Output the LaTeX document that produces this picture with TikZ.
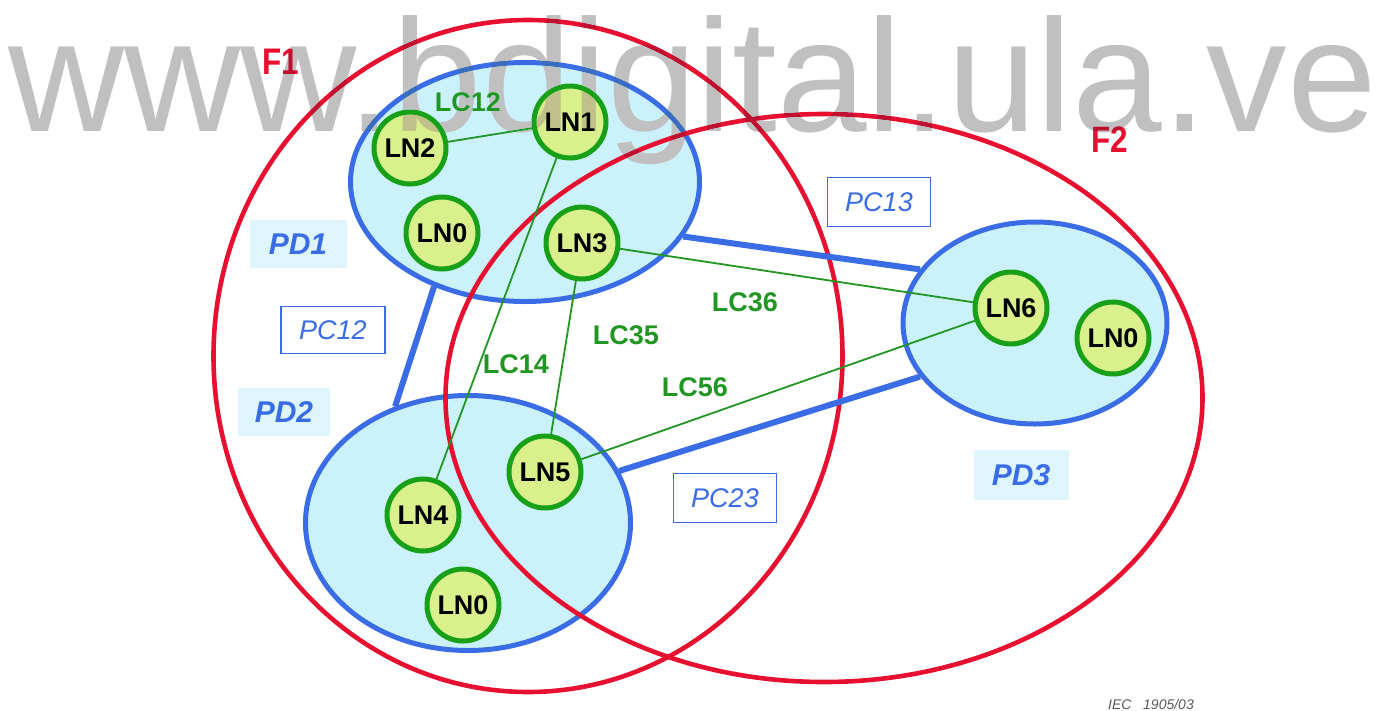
\documentclass[tikz,border=0pt]{standalone}
\usepackage{fontspec}
\setmainfont{Liberation Sans}
\usetikzlibrary{shapes.geometric}

\definecolor{fred}{RGB}{232,16,48}
\definecolor{pblue}{RGB}{58,108,230}
\definecolor{pdfill}{RGB}{203,242,250}
\definecolor{pdbg}{RGB}{222,245,251}
\definecolor{lnfill}{RGB}{218,240,140}
\definecolor{lngreen}{RGB}{24,160,24}
\definecolor{lcgreen}{RGB}{34,150,34}
\definecolor{wmgray}{RGB}{192,192,192}
\definecolor{iecgray}{RGB}{90,90,90}

\newcommand{\fs}[1]{\fontsize{#1}{#1}\selectfont}

\tikzset{
  fset/.style={ellipse, draw=fred, line width=4.6pt, inner sep=0pt},
  pdom/.style={ellipse, draw=pblue, fill=pdfill, line width=5pt, inner sep=0pt},
  lnode/.style={circle, draw=lngreen, fill=lnfill, line width=5pt, minimum size=72pt,
                inner sep=0pt, font=\fs{27}\bfseries, text=black},
  lconn/.style={draw=lcgreen, line width=1.8pt},
  pconn/.style={draw=pblue, line width=6pt},
  lclabel/.style={font=\fs{27}\bfseries, text=lcgreen, inner sep=0pt},
  pdlabel/.style={font=\fs{30}\bfseries\itshape, text=pblue, fill=pdbg, inner sep=0pt},
  pcbox/.style={draw=pblue, line width=1.6pt, font=\fs{27}\itshape, text=pblue, inner sep=0pt},
  flabel/.style={font=\fs{37}\bfseries, text=fred, inner sep=0pt, xscale=0.85},
}

\begin{document}
\begin{tikzpicture}[x=1pt, y=-1pt]
\useasboundingbox[fill=white] (0,0) rectangle (1379,710);

% physical devices
\node[pdom, minimum width=349pt, minimum height=239pt] (pd1) at (525,182) {};
\node[pdom, minimum width=325pt, minimum height=255pt] (pd2) at (468,523) {};
\node[pdom, minimum width=264pt, minimum height=202pt] (pd3) at (1035,323) {};

% functions
\node[fset, minimum width=629pt, minimum height=672pt] (f1) at (528,356) {};
\node[fset, minimum width=757pt, minimum height=568pt] (f2) at (824,398) {};

% physical connections
\draw[pconn] (pd1.229) -- (pd2.122);
\draw[pconn] (pd1.341) -- (pd3.155);
\draw[pconn] (pd2.19) -- (pd3.205);

% logical nodes
\node[lnode] (ln1) at (570,122) {LN1};
\node[lnode] (ln2) at (410,148) {LN2};
\node[lnode] (ln0a) at (442,233) {LN0};
\node[lnode] (ln3) at (582,243) {LN3};
\node[lnode] (ln4) at (423,515) {LN4};
\node[lnode] (ln5) at (545,472) {LN5};
\node[lnode] (ln0b) at (463,605) {LN0};
\node[lnode] (ln6) at (1011,308) {LN6};
\node[lnode] (ln0c) at (1113,338) {LN0};

% logical connections
\path[lconn] (ln2) -- (ln1);
\path[lconn] (ln1) -- (ln4);
\path[lconn] (ln3) -- (ln5);
\path[lconn] (ln3) -- (ln6);
\path[lconn] (ln5) -- (ln6);

% connection labels
\node[lclabel] (lc12) at (468,102) {LC12};
\node[lclabel] (lc14) at (516,364) {LC14};
\node[lclabel] (lc35) at (626,335) {LC35};
\node[lclabel] (lc36) at (745,302) {LC36};
\node[lclabel] (lc56) at (695,387) {LC56};

% device labels
\node[pdlabel, minimum width=97pt, minimum height=48pt] (pd1l) at (298,244) {PD1};
\node[pdlabel, minimum width=92pt, minimum height=48pt] (pd2l) at (284,412) {PD2};
\node[pdlabel, minimum width=95pt, minimum height=50pt] (pd3l) at (1021,475) {PD3};

% physical connection labels
\node[pcbox, minimum width=104pt, minimum height=47pt] (pc12) at (333,330) {PC12};
\node[pcbox, minimum width=103pt, minimum height=49pt] (pc13) at (879,202) {PC13};
\node[pcbox, minimum width=103pt, minimum height=49pt] (pc23) at (725,498) {PC23};

% function labels
\node[flabel] (f1l) at (281,62) {F1};
\node[flabel] (f2l) at (1110,140) {F2};

% figure reference
\node[font=\fs{14}\itshape, text=iecgray, inner sep=0pt] (iec) at (1151,704) {IEC\ \ \ 1905/03};

% repository stamp
\begin{scope}[blend mode=darken]
\node[anchor=base west, inner sep=0pt, text=wmgray, font=\fs{160}, xscale=1.006] (wm) at (8,131) {www.bdigital.ula.ve};
\end{scope}
\end{tikzpicture}
\end{document}
